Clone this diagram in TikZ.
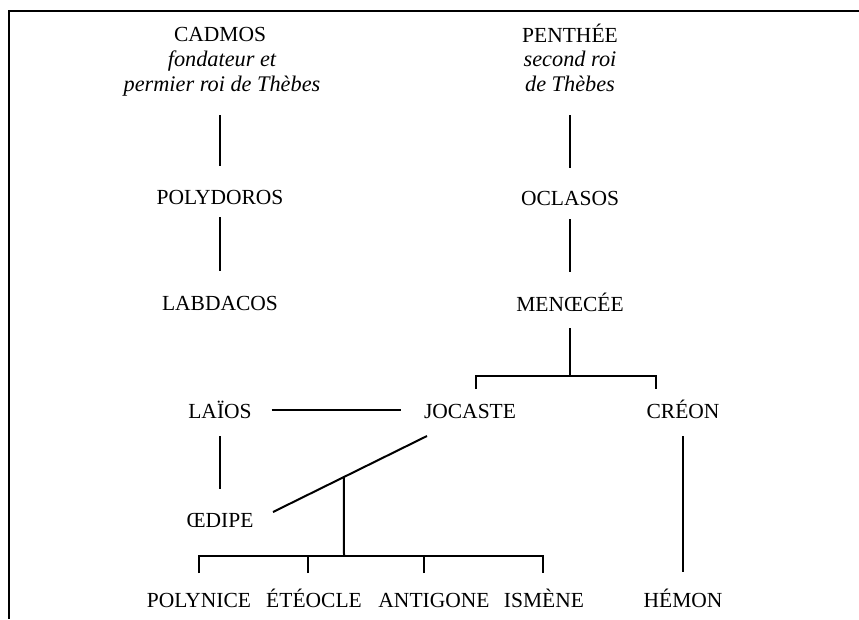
\documentclass[tikz,border=0pt]{standalone}
\usepackage{fontspec}
\setmainfont{Liberation Serif}
\usetikzlibrary{calc}
\newcommand{\famsize}{\fontsize{21.5}{25}\selectfont}
\newcommand{\rolesize}{\fontsize{22.3}{25}\selectfont}

\begin{document}
\begin{tikzpicture}[x=1pt, y=-1pt, line width=2pt,
  person/.style={anchor=base, inner sep=0pt, text height=16pt, text depth=0pt, font=\famsize},
  role/.style={anchor=north, inner sep=0pt, align=center, font=\rolesize\itshape}]
  \useasboundingbox (0,0) rectangle (859,619);

  % frame
  \draw[line width=2.6pt] (859,11) -- (9,11) -- (9,619);

  % 1. line of Cadmos
  \node[person] (cadmos) at (220,41) {CADMOS};
  \node[role] (cadmosrole) at (222,48) {\strut fondateur et\\permier roi de Thèbes\strut};
  \node[person] (polydoros) at (220,204) {POLYDOROS};
  \node[person] (labdacos) at (220,310) {LABDACOS};
  \node[person] (laios) at (220,418) {LAÏOS};
  \node[person] (oedipe) at (220,527) {ŒDIPE};

  \draw[shorten <=15pt, shorten >=21pt] (cadmosrole.south -| cadmos) -- (polydoros.north);
  \draw[shorten <=12pt, shorten >=22pt] (polydoros.south) -- (labdacos.north);
  \draw[shorten <=17pt, shorten >=21pt] (laios.south) -- (oedipe.north);

  % 2. line of Penthée
  \node[person] (penthee) at (570,42) {PENTHÉE};
  \node[role] (pentheerole) at (570,48) {\strut second roi\\de Thèbes\strut};
  \node[person] (oclasos) at (570,205) {OCLASOS};
  \node[person] (menoecee) at (570,311) {MENŒCÉE};
  \node[person] (jocaste) at (470,418) {JOCASTE};
  \node[person] (creon) at (683,418) {CRÉON};

  \draw[shorten <=15pt, shorten >=20pt] (pentheerole.south) -- (oclasos.north);
  \draw[shorten <=13pt, shorten >=22pt] (oclasos.south) -- (menoecee.north);

  \coordinate (mbar) at (570,376);
  \coordinate (jtop) at (476,389);
  \coordinate (ctop) at (656,389);
  \draw[shorten <=16pt] (menoecee.south) -- (mbar);
  \draw (jtop) |- (mbar) -| (ctop);

  % 3. marriages
  \draw[shorten <=19pt, shorten >=22pt] (laios.east) -- (jocaste.west);

  \coordinate (oe) at (273,512);
  \coordinate (jo) at (427,436);
  \draw (oe) -- (jo);

  % 4. children
  \node[person] (polynice) at (199,607) {POLYNICE};
  \node[person] (eteocle) at (314,607) {ÉTÉOCLE};
  \node[person] (antigone) at (434,607) {ANTIGONE};
  \node[person] (ismene) at (544,607) {ISMÈNE};
  \node[person] (hemon) at (683,607) {HÉMON};

  \coordinate (kids) at ($(oe)!0.46!(jo)$);
  \coordinate (kbar) at (344,556);
  \coordinate (p1) at (199,573);
  \coordinate (p2) at (308,573);
  \coordinate (p3) at (424,573);
  \coordinate (p4) at (543,573);
  \draw (kids) -- (kbar);
  \draw (p1) |- (kbar) -| (p4);
  \draw (p2) -- (p2 |- kbar);
  \draw (p3) -- (p3 |- kbar);

  \draw[shorten <=17pt, shorten >=18pt] (creon.south) -- (hemon.north);
\end{tikzpicture}
\end{document}
